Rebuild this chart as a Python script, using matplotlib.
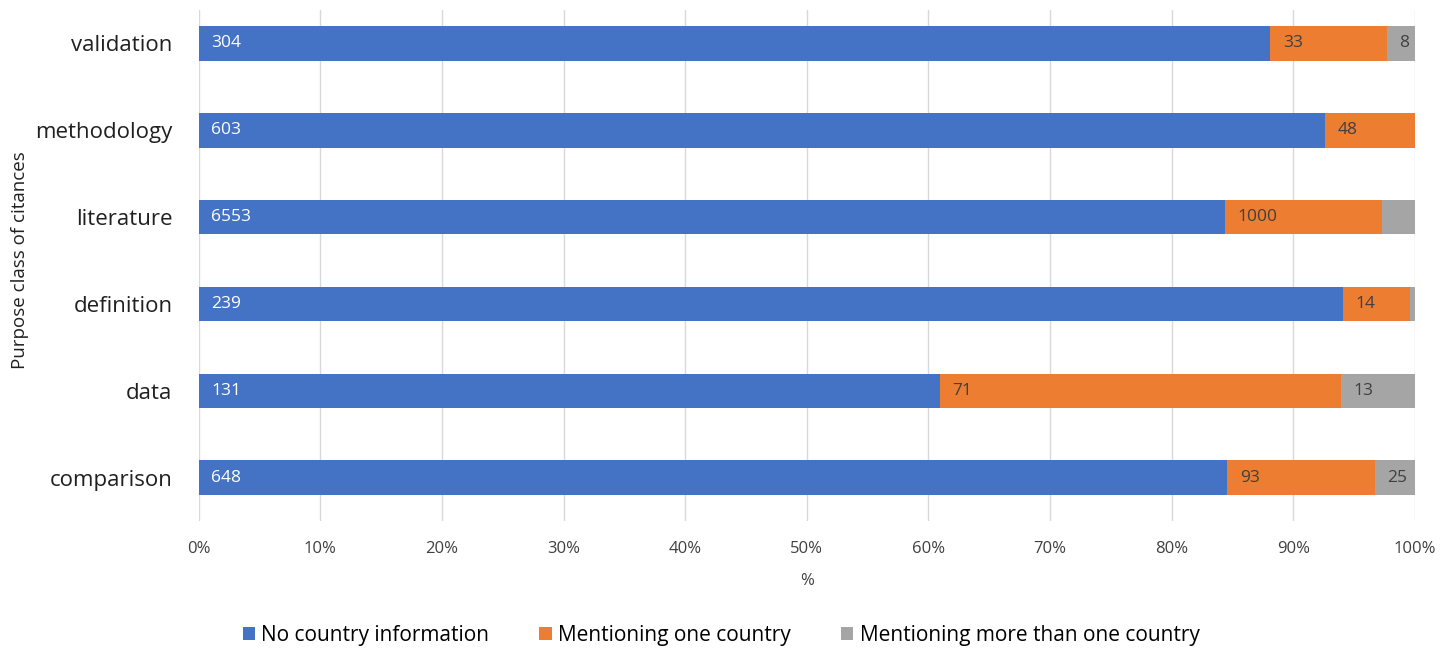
import numpy as np
import matplotlib.pyplot as plt

plt.rcParams['font.family'] = ['Open Sans', 'DejaVu Sans']

categories = ['comparison', 'data', 'definition', 'literature', 'methodology', 'validation']
no_country = [648, 131, 239, 6553, 603, 304]
one_country = [93, 71, 14, 1000, 48, 33]
more_country = [25, 13, 1, 211, 0, 8]
# which counts get a printed label (small slivers have none in the original)
show_more = [True, True, False, False, False, True]

series = [
    ('No country information', no_country, '#4472C4', 'white'),
    ('Mentioning one country', one_country, '#ED7D31', '#404040'),
    ('Mentioning more than one country', more_country, '#A5A5A5', '#404040'),
]

totals = np.array(no_country) + np.array(one_country) + np.array(more_country)

fig = plt.figure(figsize=(14.51, 6.5), dpi=100)
ax = fig.add_axes([0.137, 0.198, 0.838, 0.787])

y = np.arange(len(categories))
left = np.zeros(len(categories))
for k, (name, vals, col, tcol) in enumerate(series):
    share = np.array(vals) / totals * 100
    ax.barh(y, share, left=left, height=0.40, color=col, label=name, zorder=3)
    for i, v in enumerate(vals):
        if v == 0:
            continue
        if k == 2 and not show_more[i]:
            continue
        ax.annotate(str(v), (left[i], y[i]), xytext=(9, 0), textcoords='offset points',
                    ha='left', va='center', color=tcol, fontsize=12.5, zorder=4)
    left += share

ax.set_xlim(0, 100)
ax.set_ylim(-0.5, len(categories) - 0.615)
ax.set_xticks(np.arange(0, 101, 10))
ax.set_xticklabels([f'{t}%' for t in range(0, 101, 10)], fontsize=12, color='#404040')
ax.set_yticks(y)
ax.set_yticklabels(categories, fontsize=16, color='#202020')
ax.tick_params(axis='x', length=0, pad=14)
ax.tick_params(axis='y', length=0, pad=19)
ax.grid(axis='x', color='#D9D9D9', linewidth=1, zorder=0)
for s in ax.spines.values():
    s.set_visible(False)

ax.set_xlabel('%', fontsize=12, color='#404040', labelpad=12)
ax.set_ylabel('Purpose class of citances', fontsize=13.5, color='#202020')
ax.yaxis.set_label_coords(-0.14, 0.51)

handles, labels = ax.get_legend_handles_labels()
fig.legend(handles, labels, loc='center', bbox_to_anchor=(0.497, 0.022), ncol=3, frameon=False,
           fontsize=15, handlelength=0.6, handleheight=0.6, columnspacing=2.4, handletextpad=0.3)

fig.savefig('out.png', dpi=100)
